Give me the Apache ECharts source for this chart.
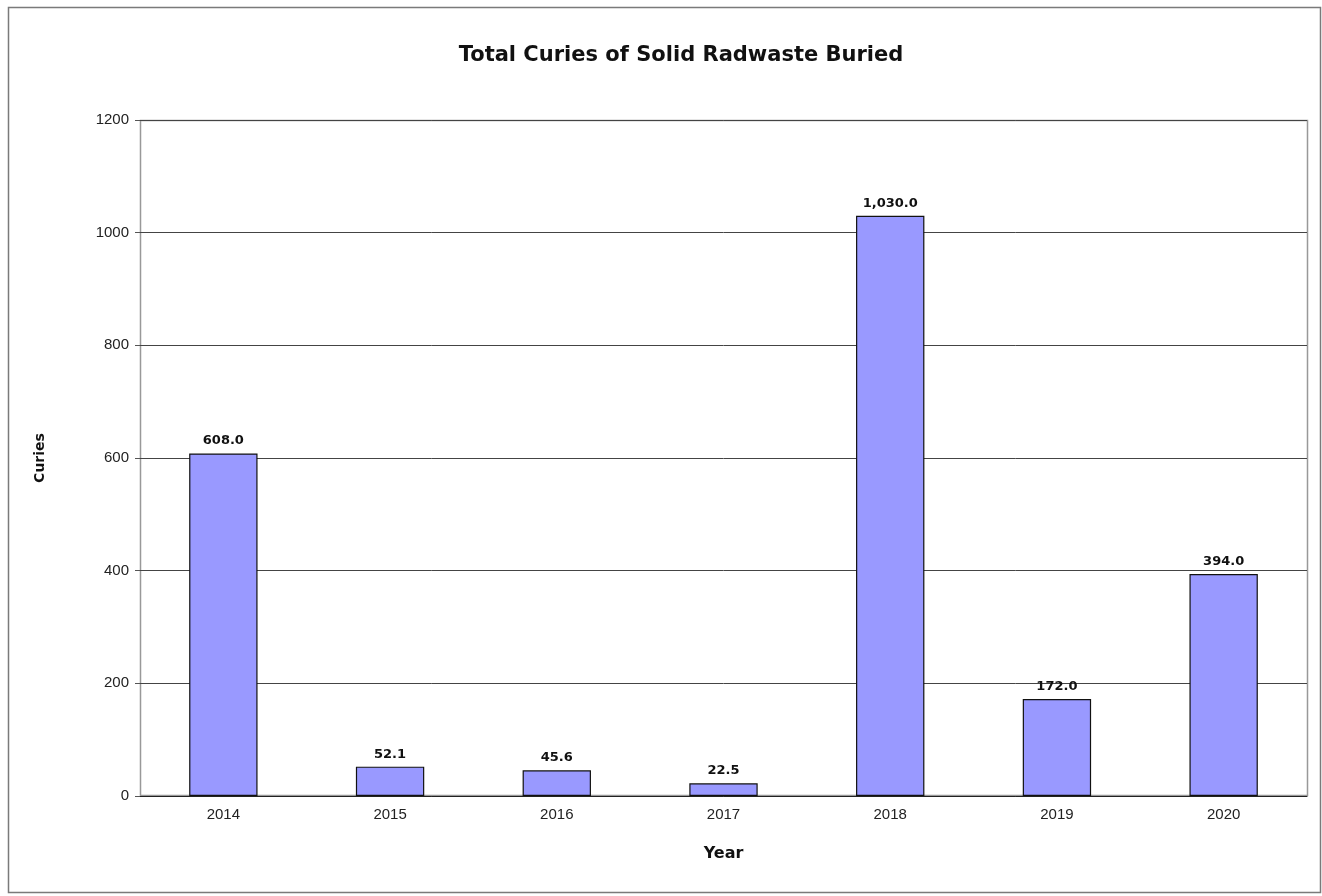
<!DOCTYPE html>
<html>
<head>
<meta charset="utf-8">
<script src="https://cdn.jsdelivr.net/npm/echarts@6/dist/echarts.min.js"></script>
<style>
  html, body { margin: 0; padding: 0; background: #fff; }
  #chart { width: 1322px; height: 896px; }
</style>
</head>
<body>
<div id="chart"></div>
<script>
// Solid radwaste buried per year (curies)
const years = ['2014', '2015', '2016', '2017', '2018', '2019', '2020'];
const curies = [608.0, 52.1, 45.6, 22.5, 1030.0, 172.0, 394.0];
const yTicks = [0, 200, 400, 600, 800, 1000, 1200];

const REG = "'Liberation Sans', Arial, sans-serif";
const BOLD = "'DejaVu Sans', Verdana, sans-serif";

const chart = echarts.init(document.getElementById('chart'), null, { renderer: 'canvas' });

const fmt = v => v.toLocaleString('en-US', { minimumFractionDigits: 1, maximumFractionDigits: 1 });

chart.setOption({
  backgroundColor: '#ffffff',
  animation: false,
  textStyle: { fontFamily: REG },
  graphic: [
    {
      type: 'rect',
      shape: { x: 8.5, y: 7.5, width: 1312, height: 885 },
      style: { fill: 'none', stroke: '#7a7a7a', lineWidth: 1.5 },
      silent: true
    },
    {
      type: 'rect',
      shape: { x: 140.5, y: 120.5, width: 1167, height: 675 },
      style: { fill: 'none', stroke: '#999999', lineWidth: 1.5 },
      silent: true,
      z: -1
    }
  ],
  title: {
    text: 'Total Curies of Solid Radwaste Buried',
    left: 676,
    top: 40,
    textAlign: 'center',
    textStyle: { fontFamily: BOLD, fontSize: 21, fontWeight: 'bold', color: '#111' }
  },
  grid: { left: 140, right: 15, top: 120, bottom: 100, containLabel: false },
  xAxis: {
    type: 'category',
    data: years,
    name: 'Year',
    nameLocation: 'middle',
    nameGap: 50,
    nameTextStyle: { fontFamily: BOLD, fontSize: 16, fontWeight: 'bold', color: '#111' },
    axisLine: { show: true, lineStyle: { color: '#222', width: 1 } },
    axisTick: { show: false },
    axisLabel: { fontFamily: REG, fontSize: 15, color: '#222', margin: 11 }
  },
  yAxis: {
    type: 'value',
    min: yTicks[0],
    max: yTicks[yTicks.length - 1],
    interval: yTicks[1] - yTicks[0],
    name: 'Curies',
    nameLocation: 'middle',
    nameGap: 93,
    nameTextStyle: { fontFamily: BOLD, fontSize: 14, fontWeight: 'bold', color: '#111' },
    axisLine: { show: false },
    axisTick: { show: true, length: 5, lineStyle: { color: '#555' } },
    axisLabel: { fontFamily: REG, fontSize: 15, color: '#222', margin: 11, formatter: v => String(v) },
    splitLine: { show: true, lineStyle: { color: '#444', width: 1 } }
  },
  series: [{
    type: 'bar',
    data: curies,
    barWidth: '41%',
    itemStyle: { color: '#9999ff', borderColor: '#111', borderWidth: 1.2 },
    label: {
      show: true,
      position: 'top',
      distance: 6,
      fontFamily: BOLD,
      fontSize: 13,
      fontWeight: 'bold',
      color: '#111',
      formatter: p => fmt(p.value)
    },
    z: 3
  }]
});
</script>
</body>
</html>
